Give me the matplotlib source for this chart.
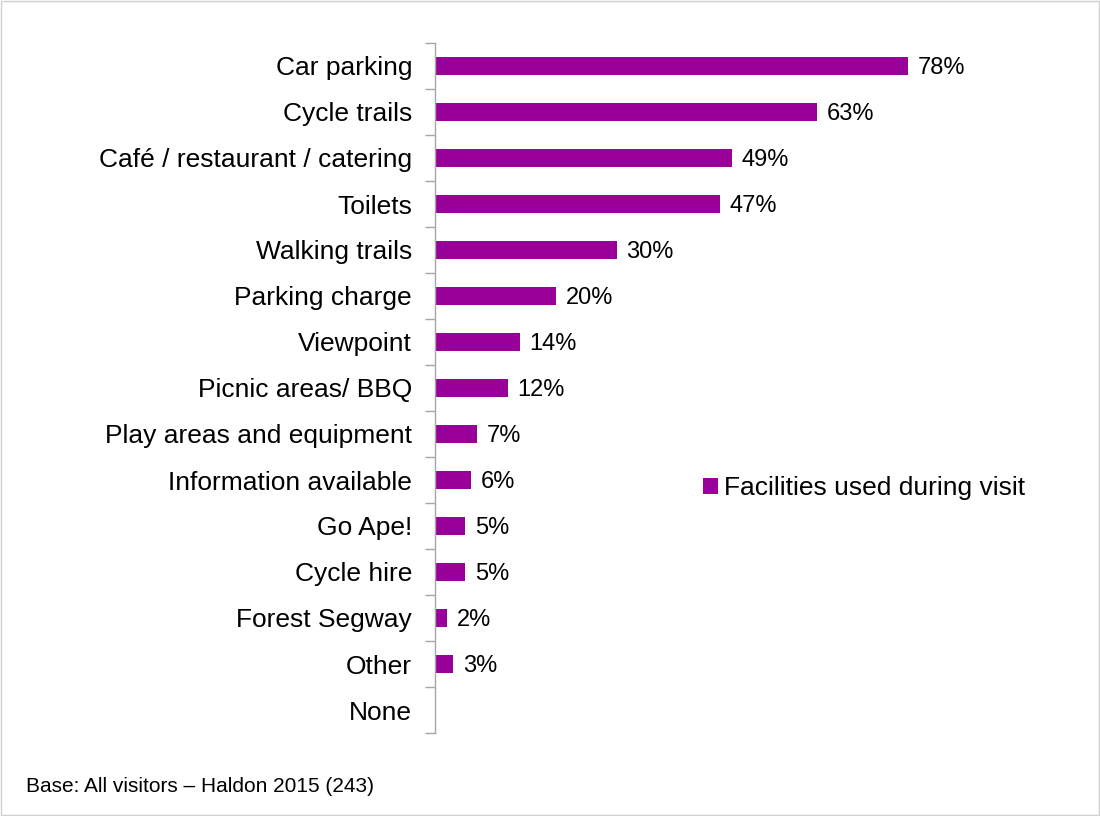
import matplotlib
matplotlib.use("Agg")
import matplotlib.pyplot as plt
from matplotlib.patches import Rectangle
from matplotlib.ticker import FixedLocator

plt.rcParams['font.family'] = ['Liberation Sans', 'DejaVu Sans']

categories = ["Car parking", "Cycle trails", "Café / restaurant / catering", "Toilets",
              "Walking trails", "Parking charge", "Viewpoint", "Picnic areas/ BBQ",
              "Play areas and equipment", "Information available", "Go Ape!",
              "Cycle hire", "Forest Segway", "Other", "None"]
values = [78, 63, 49, 47, 30, 20, 14, 12, 7, 6, 5, 5, 2, 3, None]
series_name = "Facilities used during visit"
base_note = "Base: All visitors – Haldon 2015 (243)"

purple = "#990099"
grey = "#a6a6a6"

fig = plt.figure(figsize=(11, 8.16), dpi=100)
fig.patches.append(Rectangle((0.001, 0.001), 0.998, 0.998, transform=fig.transFigure,
                             fill=False, edgecolor="#d0d0d0", linewidth=1))

ax = fig.add_axes([435 / 1100, 1 - 733 / 816, 565 / 1100, 690 / 816])

n = len(categories)
ypos = list(range(n))
plot_vals = [v if v is not None else 0 for v in values]
bars = ax.barh(ypos, plot_vals, height=0.4, color=purple, label=series_name)

for y, v in zip(ypos, values):
    if v is None:
        continue
    ax.annotate(f"{v}%", xy=(v, y), xytext=(7, 0), textcoords="offset points",
                va="center_baseline", ha="left", fontsize=17, color="#000000")

ax.set_ylim(n - 0.5, -0.5)
ax.set_xlim(0, 565 / 6.06)
ax.set_yticks(ypos)
ax.set_yticklabels(categories, fontsize=19, va="center_baseline")
ax.yaxis.set_minor_locator(FixedLocator([i - 0.5 for i in range(n + 1)]))
ax.tick_params(axis="y", which="major", length=0, pad=16.5)
ax.tick_params(axis="y", which="minor", length=7, width=1, color=grey)
ax.set_xticks([])
for side in ("top", "right", "bottom"):
    ax.spines[side].set_visible(False)
ax.spines["left"].set_color(grey)
ax.spines["left"].set_linewidth(1)

fig.legend(handles=[bars], labels=[series_name], loc="center left",
           bbox_to_anchor=(703 / 1100, 1 - 488 / 816), frameon=False,
           fontsize=19, handlelength=0.55, handleheight=0.55, handletextpad=0.25,
           borderpad=0, borderaxespad=0)

fig.text(26 / 1100, 1 - 787 / 816, base_note, fontsize=15, va="center", ha="left")

fig.savefig("out.png", dpi=100)
